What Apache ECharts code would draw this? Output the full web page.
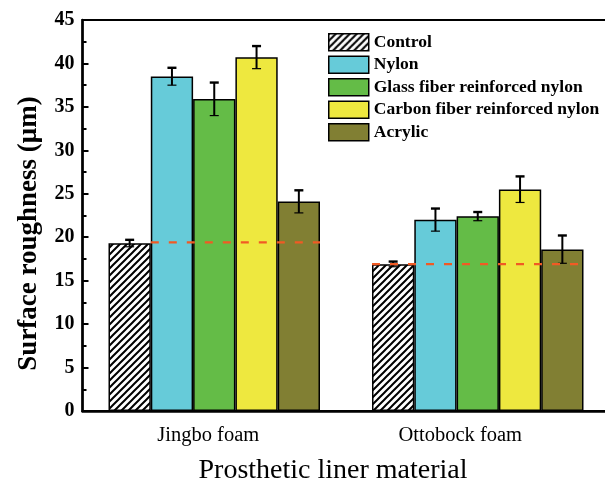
<!DOCTYPE html>
<html><head><meta charset="utf-8">
<script src="https://cdn.jsdelivr.net/npm/echarts@6/dist/echarts.min.js"></script>
<style>html,body{margin:0;padding:0;background:#fff}#c{width:605px;height:486px}</style>
</head><body><div id="c"></div>
<script>
var categories = ['Jingbo foam', 'Ottobock foam'];
var seriesNames = ['Control', 'Nylon', 'Glass fiber reinforced nylon', 'Carbon fiber reinforced nylon', 'Acrylic'];
var controlVals = [19.3, 16.9];
var nylonVals = [38.5, 22.0];
var glassVals = [35.9, 22.4];
var carbonVals = [40.7, 25.5];
var acrylicVals = [24.1, 18.6];
var controlErr = [0.4, 0.3];
var nylonErr = [1.0, 1.3];
var glassErr = [1.9, 0.5];
var carbonErr = [1.3, 1.5];
var acrylicErr = [1.3, 1.6];
// reference dashed lines: [category index, value, from bar index, to bar index]
var refLines = [[0, 19.4, 1, 4], [1, 16.9, 0, 4]];
var yTicks = [0, 5, 10, 15, 20, 25, 30, 35, 40, 45];

var allVals = [controlVals, nylonVals, glassVals, carbonVals, acrylicVals];
var allErr = [controlErr, nylonErr, glassErr, carbonErr, acrylicErr];
var colors = [null, '#66cbd9', '#64bc47', '#eee83f', '#817f33'];

// hatch pattern
var pc = document.createElement('canvas');
pc.width = 7; pc.height = 7;
var g = pc.getContext('2d');
g.fillStyle = '#fff'; g.fillRect(0, 0, 7, 7);
g.strokeStyle = '#000'; g.lineWidth = 2;
g.beginPath();
g.moveTo(-1, 8); g.lineTo(8, -1);
g.moveTo(-4.5, 4.5); g.lineTo(4.5, -4.5);
g.moveTo(2.5, 11.5); g.lineTo(11.5, 2.5);
g.stroke();
colors[0] = {image: pc, repeat: 'repeat'};

var BW = 42.3;
var FONT = 'Liberation Serif';

var series = [];
for (var i = 0; i < 5; i++) {
  series.push({
    name: seriesNames[i], type: 'bar', data: allVals[i], barWidth: BW, barGap: '0%',
    itemStyle: {color: colors[i], borderColor: '#000', borderWidth: 1.5},
    z: 2
  });
}
var errData = [];
for (var s = 0; s < 5; s++) for (var c = 0; c < 2; c++) errData.push([c, allVals[s][c], allErr[s][c], s]);
series.push({
  type: 'custom', z: 5, silent: true,
  data: errData,
  renderItem: function (params, api) {
    var c = api.value(0), v = api.value(1), e = api.value(2), s = api.value(3);
    var center = api.coord([c, v]);
    var x = center[0] + (s - 2) * BW;
    var top = api.coord([c, v + e])[1];
    var bot = api.coord([c, v - e])[1];
    var hw = 4.5;
    var st = {stroke: '#000', lineWidth: 2};
    return {type: 'group', children: [
      {type: 'line', shape: {x1: x, y1: top, x2: x, y2: bot}, style: st},
      {type: 'line', shape: {x1: x - hw, y1: top, x2: x + hw, y2: top}, style: {stroke: '#000', lineWidth: 2.4}},
      {type: 'line', shape: {x1: x - hw, y1: bot, x2: x + hw, y2: bot}, style: {stroke: '#000', lineWidth: 1.2}}
    ]};
  }
});
series.push({
  type: 'custom', z: 6, silent: true,
  data: refLines,
  renderItem: function (params, api) {
    var c = api.value(0), v = api.value(1), a = api.value(2), b = api.value(3);
    var p = api.coord([c, v]);
    var x1 = p[0] + (a - 2.5) * BW, x2 = p[0] + (b - 1.5) * BW;
    return {type: 'line', shape: {x1: x1, y1: p[1], x2: x2, y2: p[1]},
      style: {stroke: '#f15a24', lineWidth: 2.2, lineDash: [8, 10]}};
  }
});

var chart = echarts.init(document.getElementById('c'), null, {renderer: 'canvas'});
chart.setOption({
  animation: false,
  backgroundColor: '#fff',
  grid: {left: 82.5, right: -4.5, top: 20, bottom: 75, outerBoundsMode: 'none', containLabel: false,
    show: true, borderColor: '#000', borderWidth: 2, backgroundColor: 'transparent'},
  legend: {
    orient: 'vertical', left: 323, top: 28, itemWidth: 40, itemHeight: 17, itemGap: 4, icon: 'rect',
    data: seriesNames,
    textStyle: {fontFamily: FONT, fontWeight: 'bold', fontSize: 17.5, color: '#000'},
    itemStyle: {borderColor: '#000', borderWidth: 1.5}
  },
  xAxis: {
    type: 'category', data: categories,
    axisLine: {lineStyle: {color: '#000', width: 2.5}},
    axisTick: {show: false},
    axisLabel: {fontFamily: FONT, fontSize: 20.5, color: '#000', margin: 14,
      formatter: function (v, idx) { return idx === 0 ? '{a|' + v + '}' : '{b|' + v + '}'; },
      rich: {
        a: {fontFamily: FONT, fontSize: 20.5, color: '#000', padding: [0, 12, 0, 0]},
        b: {fontFamily: FONT, fontSize: 20.5, color: '#000', padding: [0, 35, 0, 0]}
      }},
    name: 'Prosthetic liner material', nameLocation: 'middle', nameGap: 46,
    nameTextStyle: {fontFamily: FONT, fontSize: 28, color: '#000', padding: [0, 26, 0, 0]}
  },
  yAxis: {
    type: 'value', min: 0, max: 45, interval: 5,
    axisLine: {show: true, lineStyle: {color: '#000', width: 2.5}},
    axisTick: {show: true, inside: true, length: 6, lineStyle: {color: '#000', width: 2}},
    minorTick: {show: true, splitNumber: 2, length: 4, lineStyle: {color: '#000', width: 2}},
    splitLine: {show: false},
    axisLabel: {fontFamily: FONT, fontWeight: 'bold', fontSize: 20, color: '#000', margin: 8,
      formatter: function (v) { return yTicks.indexOf(v) >= 0 ? String(v) : ''; }},
    name: 'Surface roughness (μm)', nameLocation: 'middle', nameGap: 40,
    nameTextStyle: {fontFamily: FONT, fontWeight: 'bold', fontSize: 27, color: '#000', padding: [0, 36, 0, 0]}
  },
  series: series
});
</script></body></html>
